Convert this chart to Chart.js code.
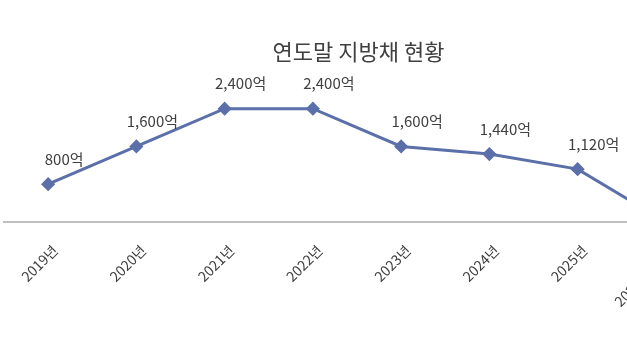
<!DOCTYPE html>
<html><head><meta charset="utf-8">
<script src="https://cdn.jsdelivr.net/npm/chart.js@4/dist/chart.umd.min.js"></script>
<style>
html,body{margin:0;padding:0;background:#fff;overflow:hidden;}
#wrap{width:722px;height:355px;position:relative;margin-left:-4px;}
</style></head>
<body>
<div id="wrap"><canvas id="c"></canvas></div>
<script>
const categories = ["2019년","2020년","2021년","2022년","2023년","2024년","2025년","2026년(추정)"];
const debtValues = [800,1600,2400,2400,1600,1440,1120,0];
const chartTitle = "연도말 지방채 현황";
const unitSuffix = "억";

const KFONT = "'Noto Sans CJK KR','Noto Sans',sans-serif";

const labelPlugin = {
  id: 'pointLabels',
  afterDatasetsDraw(chart) {
    const ctx = chart.ctx;
    const meta = chart.getDatasetMeta(0);
    ctx.save();
    ctx.font = "15px " + KFONT;
    ctx.fillStyle = "#404040";
    ctx.textAlign = "center";
    ctx.textBaseline = "middle";
    meta.data.forEach((pt, i) => {
      const v = chart.data.datasets[0].data[i];
      ctx.fillText(v.toLocaleString('en-US') + unitSuffix, pt.x + 16, pt.y - 25);
    });
    ctx.restore();
  }
};

new Chart(document.getElementById('c'), {
  type: 'line',
  data: {
    labels: categories,
    datasets: [{
      data: debtValues,
      borderColor: '#5b6fa9',
      backgroundColor: '#5b6fa9',
      borderWidth: 3,
      pointStyle: 'rectRot',
      pointRadius: 5,
      pointHoverRadius: 5,
      tension: 0,
      fill: false
    }]
  },
  options: {
    responsive: true,
    maintainAspectRatio: false,
    animation: false,
    layout: { padding: { left: 3, right: 0, top: 0, bottom: 0 } },
    plugins: {
      legend: { display: false },
      tooltip: { enabled: false },
      title: {
        display: true,
        text: chartTitle,
        color: '#404040',
        font: { family: KFONT, size: 22, weight: 'normal', lineHeight: 1.2 },
        padding: { top: 38, bottom: 16 }
      }
    },
    scales: {
      x: {
        offset: true,
        grid: { display: false, drawTicks: false },
        border: { display: true, color: '#bfbfbf', width: 2 },
        ticks: {
          color: '#404040',
          font: { family: KFONT, size: 14 },
          minRotation: 45, maxRotation: 45,
          autoSkip: false,
          padding: 20,
          labelOffset: 7
        },
        afterFit(scale) { scale.height = 133; }
      },
      y: {
        display: false,
        min: 0, max: 3000
      }
    }
  },
  plugins: [labelPlugin]
});
</script>
</body></html>
